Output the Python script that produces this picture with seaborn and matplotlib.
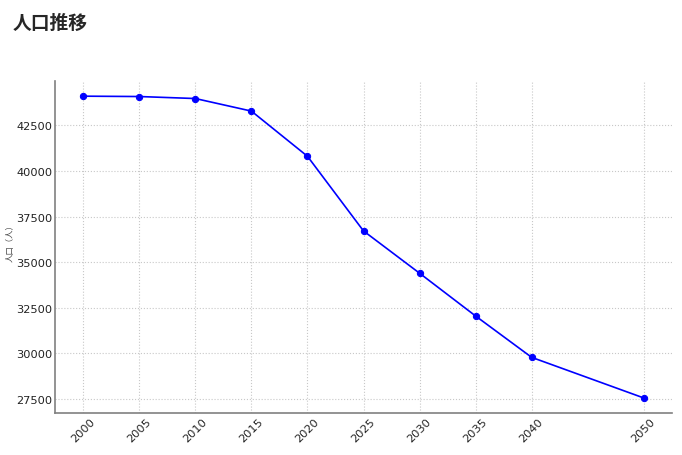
import pandas as pd
import seaborn as sns
import matplotlib.pyplot as plt

# Data
years = [2000, 2005, 2010, 2015, 2020, 2025, 2030, 2035, 2040, 2050]
population = [44110, 44090, 43980, 43290, 40810, 36710, 34390, 32040, 29770, 27540]

df = pd.DataFrame({"year": years, "population": population})

sns.set_style("whitegrid", {"grid.linestyle": ":", "grid.color": "#c8c8c8",
                            "axes.edgecolor": "#808080"})
plt.rcParams['font.family'] = ['DejaVu Sans', 'Noto Sans CJK JP']

fig = plt.figure(figsize=(6.82, 4.56), dpi=100)
ax = fig.add_axes([0.081, 0.092, 0.904, 0.728])

sns.lineplot(data=df, x="year", y="population", ax=ax, color="#0000ff",
             marker="o", markersize=4.5, markeredgecolor="#0000ff", linewidth=1.2)

ax.set_xticks(years)
ax.set_xticklabels([str(y) for y in years], rotation=45)
ax.tick_params(axis="both", direction="in", length=4, width=1, color="#333333",
               labelsize=8.2, labelcolor="#222222", pad=2)
ax.set_xlabel("")
ax.set_ylabel("人口（人）", fontsize=6, color="#444444",
              family=['Noto Sans CJK JP', 'DejaVu Sans'])
ax.yaxis.set_label_coords(-0.066, 0.52)
ax.grid(True, linestyle=":", color="#c8c8c8", linewidth=0.8)

sns.despine(ax=ax)
for s in ["left", "bottom"]:
    ax.spines[s].set_color("#808080")
    ax.spines[s].set_linewidth(1.2)

fig.text(0.018, 0.97, "人口推移", fontsize=13.5, fontweight="bold", va="top", ha="left",
         family=['Noto Sans CJK JP', 'DejaVu Sans'])

fig.savefig("out.png", dpi=100)
